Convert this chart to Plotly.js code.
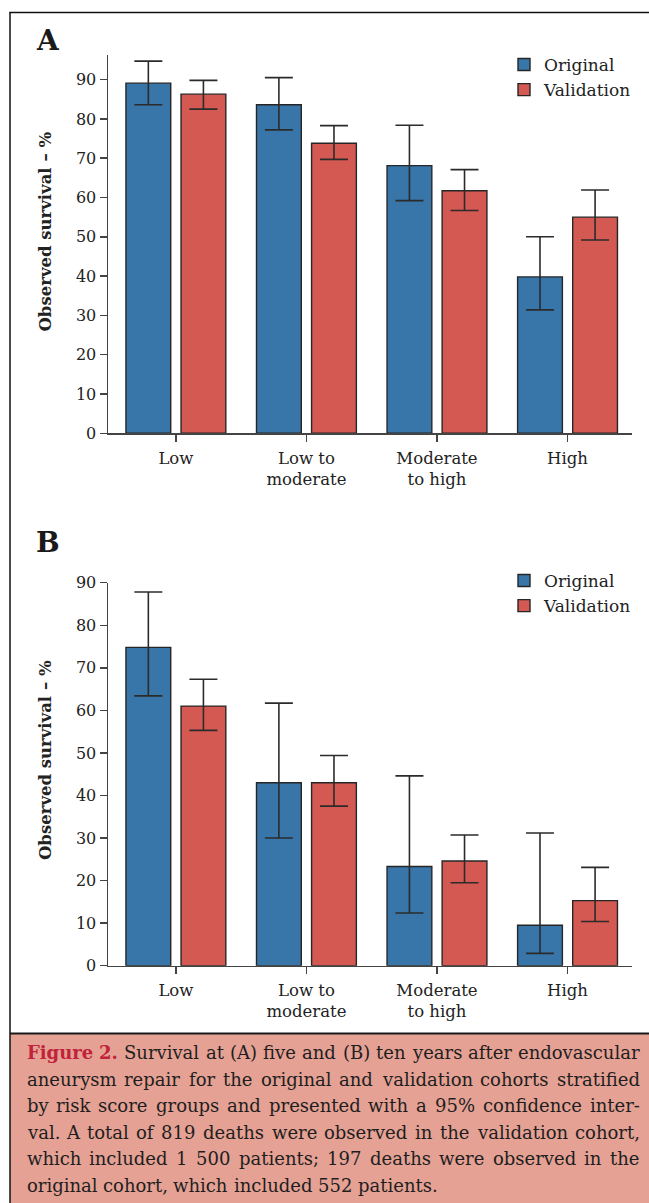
<!DOCTYPE html>
<html>
<head>
<meta charset="utf-8">
<script src="https://cdn.plot.ly/plotly-3.0.1.min.js"></script>
<style>
  html, body { margin: 0; padding: 0; background: #ffffff; }
  #chart { width: 649px; height: 1203px; }
</style>
</head>
<body>
<div id="chart"></div>
<script>
// ---------- data ----------
const categories = ['Low', 'Low to<br>moderate', 'Moderate<br>to high', 'High'];
const yTicks = [0, 10, 20, 30, 40, 50, 60, 70, 80, 90];

// Panel A: five-year survival (%)
const origA    = [89.1, 83.6, 68.1, 39.8];
const origA_hi = [94.7, 90.5, 78.4, 50.0];
const origA_lo = [83.6, 77.2, 59.2, 31.4];
const valA     = [86.3, 73.8, 61.7, 55.0];
const valA_hi  = [89.8, 78.3, 67.1, 61.9];
const valA_lo  = [82.5, 69.7, 56.7, 49.2];

// Panel B: ten-year survival (%)
const origB    = [74.8, 43.0, 23.3, 9.5];
const origB_hi = [87.8, 61.7, 44.6, 31.2];
const origB_lo = [63.4, 30.0, 12.4, 2.9];
const valB     = [61.0, 43.0, 24.6, 15.3];
const valB_hi  = [67.3, 49.4, 30.7, 23.1];
const valB_lo  = [55.3, 37.5, 19.5, 10.4];

const seriesNames = ['Original', 'Validation'];
const captionLines = [
  'Figure 2. Survival at (A) five and (B) ten years after endovascular',
  'aneurysm repair for the original and validation cohorts stratified',
  'by risk score groups and presented with a 95% confidence inter-',
  'val. A total of 819 deaths were observed in the validation cohort,',
  'which included 1 500 patients; 197 deaths were observed in the',
  'original cohort, which included 552 patients.'
];
const captionLead = 2; // first two words ("Figure 2.") highlighted

// ---------- styling ----------
const W = 649, H = 1203;
const FONT = '"DejaVu Serif", serif';
const BLUE = '#3875a8', RED = '#d45952';
const INK = '#222222';
const px = v => v / W;
const py = v => 1 - v / H;

function errs(v, hi, lo) {
  return {
    type: 'data', symmetric: false,
    array: hi.map((h, i) => +(h - v[i]).toFixed(2)),
    arrayminus: lo.map((l, i) => +(v[i] - l).toFixed(2)),
    color: '#2b2b2b', thickness: 1.6, width: 14
  };
}
function barTrace(name, vals, hi, lo, color, xa, ya, leg, show) {
  return {
    type: 'bar', name: name, x: categories, y: vals,
    xaxis: xa, yaxis: ya, legend: leg, showlegend: show,
    marker: { color: color, line: { color: '#262626', width: 1.4 } },
    error_y: errs(vals, hi, lo), hoverinfo: 'skip'
  };
}

const traces = [
  barTrace(seriesNames[0], origA, origA_hi, origA_lo, BLUE, 'x', 'y', 'legend', true),
  barTrace(seriesNames[1], valA, valA_hi, valA_lo, RED, 'x', 'y', 'legend', true),
  barTrace(seriesNames[0], origB, origB_hi, origB_lo, BLUE, 'x2', 'y2', 'legend2', true),
  barTrace(seriesNames[1], valB, valB_hi, valB_lo, RED, 'x2', 'y2', 'legend2', true)
];

const xDom = [px(108), px(631.5)];
function xAxis(anchor) {
  return {
    domain: xDom, anchor: anchor, type: 'category', range: [-0.52, 3.49],
    showline: true, linecolor: '#444', linewidth: 1.5,
    ticks: 'outside', ticklen: 7, tickwidth: 1.5, tickcolor: '#444',
    ticklabelstandoff: 2,
    showgrid: false, zeroline: false, fixedrange: true,
    tickfont: { family: FONT, size: 16.5, color: INK }
  };
}
function yAxis(anchor, dom, top) {
  return {
    domain: dom, anchor: anchor, range: [0, top],
    tickvals: yTicks, ticktext: yTicks.map(String),
    showline: true, linecolor: '#444', linewidth: 1.5,
    ticks: 'outside', ticklen: 7, tickwidth: 1.5, tickcolor: '#444',
    showgrid: false, zeroline: false, fixedrange: true,
    tickfont: { family: FONT, size: 16, color: INK }
  };
}

// ---------- caption (justified, word by word) ----------
const capSize = 18;
const capLeft = 26.5, capRight = 639.5;
const capCenters = [1052.5, 1079, 1105.5, 1132, 1158.5, 1185];
const cvs = document.createElement('canvas').getContext('2d');
function measure(t, bold) {
  cvs.font = (bold ? 'bold ' : '') + capSize + 'px "DejaVu Serif"';
  return cvs.measureText(t).width;
}
const annotations = [];
captionLines.forEach((line, li) => {
  const words = line.split(' ');
  const bolds = words.map((w, wi) => li === 0 && wi < captionLead);
  const widths = words.map((w, wi) => measure(w, bolds[wi]));
  const total = widths.reduce((a, b) => a + b, 0);
  const last = li === captionLines.length - 1;
  let gap = last ? measure(' ', false) : (capRight - capLeft - total) / (words.length - 1);
  if (gap < 2) gap = 2;
  let cx = capLeft;
  words.forEach((w, wi) => {
    annotations.push({
      xref: 'paper', yref: 'paper', x: px(cx), y: py(capCenters[li]),
      xanchor: 'left', yanchor: 'middle', showarrow: false,
      borderpad: 0, borderwidth: 0,
      text: w,
      font: { family: FONT, size: capSize, color: bolds[wi] ? '#c0233a' : '#1e1e1e',
              weight: bolds[wi] ? 'bold' : 'normal' }
    });
    cx += widths[wi] + gap;
  });
});

// panel letters and y titles
[['A', 40.5], ['B', 542.5]].forEach(([t, y]) => annotations.push({
  xref: 'paper', yref: 'paper', x: px(34), y: py(y), xanchor: 'left', yanchor: 'middle',
  showarrow: false, text: t, font: { family: FONT, size: 28, color: '#1a1a1a', weight: 'bold' }
}));
[231.5, 760].forEach(y => annotations.push({
  xref: 'paper', yref: 'paper', x: px(45), y: py(y), xanchor: 'center', yanchor: 'middle',
  showarrow: false, textangle: -90, text: 'Observed survival – %',
  font: { family: FONT, size: 16.5, color: INK, weight: 'bold' }
}));

const shapes = [
  { type: 'rect', xref: 'paper', yref: 'paper', x0: px(10), x1: 1, y0: 0, y1: py(1034),
    fillcolor: '#e5a194', line: { width: 0 }, layer: 'below' },
  { type: 'line', xref: 'paper', yref: 'paper', x0: px(10), x1: 1, y0: py(1033.5), y1: py(1033.5),
    line: { color: '#1a1a1a', width: 2 } },
  { type: 'line', xref: 'paper', yref: 'paper', x0: px(9.5), x1: 1, y0: py(12.5), y1: py(12.5),
    line: { color: '#111', width: 1.5 } },
  { type: 'line', xref: 'paper', yref: 'paper', x0: px(10), x1: px(10), y0: 0, y1: py(12),
    line: { color: '#111', width: 1.5 } }
];

function legendCfg(topPx) {
  return {
    x: px(504), y: py(topPx), xanchor: 'left', yanchor: 'top',
    bgcolor: 'rgba(0,0,0,0)', borderwidth: 0,
    font: { family: FONT, size: 17, color: INK },
    traceorder: 'normal', tracegroupgap: 0
  };
}

const layout = {
  width: W, height: H,
  margin: { l: 0, r: 0, t: 0, b: 0 },
  paper_bgcolor: '#ffffff', plot_bgcolor: 'rgba(0,0,0,0)',
  barmode: 'group', bargap: 0.156, bargroupgap: 0.187,
  xaxis: xAxis('y'),
  yaxis: yAxis('x', [py(433.3), py(55)], 96.26),
  xaxis2: xAxis('y2'),
  yaxis2: yAxis('x2', [py(965.7), py(582.7)], 90),
  legend: legendCfg(47),
  legend2: legendCfg(563),
  annotations: annotations,
  shapes: shapes,
  font: { family: FONT, color: INK }
};

Plotly.newPlot('chart', traces, layout, { staticPlot: true, displayModeBar: false });
</script>
</body>
</html>
